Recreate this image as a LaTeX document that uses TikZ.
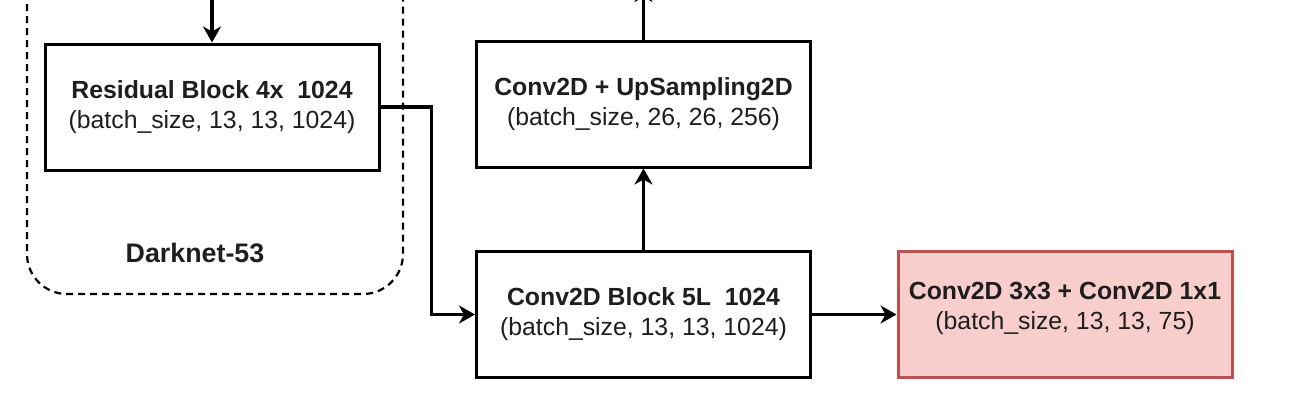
\documentclass[tikz,border=0pt]{standalone}
\usepackage{fontspec}
\setmainfont{Liberation Sans}
\usetikzlibrary{arrows.meta}
\definecolor{redfill}{HTML}{F8CECC}
\definecolor{redline}{HTML}{B85450}
\definecolor{txt}{HTML}{1E1E1E}
\begin{document}
\begin{tikzpicture}[x=0.5pt,y=-0.5pt,
  blockbox/.style={draw=black,line width=1.5pt,minimum width=167pt,minimum height=63pt,align=center,inner sep=0pt,
    text=txt,font=\fontsize{12.4}{15}\selectfont},
  arr/.style={line width=1.7pt,-{Stealth[length=8pt,width=9pt,inset=2.5pt]}}]
\useasboundingbox (0,0) rectangle (1316,407);
\clip (0,0) rectangle (1316,407);
\fill[white] (0,0) rectangle (1316,407);
% Darknet dashed container
\draw[line width=1.1pt,dash pattern=on 3.5pt off 2.5pt,rounded corners=20pt] (27,-60) rectangle (403,294);
\node[text=txt,font=\fontsize{13.4}{15}\selectfont\bfseries] (dk) at (195,253) {Darknet-53};
% blocks
\node[blockbox] (res) at (212,107) {\textbf{Residual Block 4x\ \ 1024}\\(batch\_size, 13, 13, 1024)};
\node[blockbox] (up) at (643.5,104) {\textbf{Conv2D + UpSampling2D}\\(batch\_size, 26, 26, 256)};
\node[blockbox] (blk) at (643.5,314.5) {\textbf{Conv2D Block 5L\ \ 1024}\\(batch\_size, 13, 13, 1024)};
\node[blockbox,draw=redline,fill=redfill,text depth=9pt] (out) at (1065,314.5) {\textbf{Conv2D 3x3 + Conv2D 1x1}\\(batch\_size, 13, 13, 75)};
% free ends
\coordinate (topin) at (212,-5);
\coordinate (topout) at (643.5,-14);
% connectors
\draw[arr] (topin) -- (res.north);
\draw[arr] (up.north) -- (topout);
\draw[arr] (blk.north) -- (up.south);
\draw[arr] (res.east) -- ++(51,0) |- (blk.west);
\draw[arr] (blk.east) -- (out.west);
\end{tikzpicture}
\end{document}
